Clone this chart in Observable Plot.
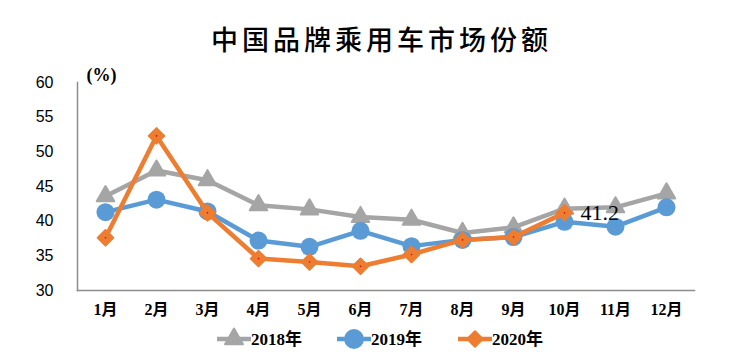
<!DOCTYPE html>
<html><head><meta charset="utf-8">
<script src="https://cdn.jsdelivr.net/npm/d3@7"></script>
<script src="https://cdn.jsdelivr.net/npm/@observablehq/plot@0.6"></script>
<style>
body{margin:0;background:#fff;width:739px;height:357px;overflow:hidden;}
#title{height:60px;line-height:78px;text-align:center;padding-left:24px;font-family:"Noto Sans CJK SC",sans-serif;font-weight:500;font-size:27px;letter-spacing:4px;color:#000;box-sizing:border-box;}
#chart{height:265px;}
#legend{height:32px;}
</style></head><body>
<div id="title">中国品牌乘用车市场份额</div>
<div id="chart"></div>
<div id="legend"></div>
<script>
const months = ["1月","2月","3月","4月","5月","6月","7月","8月","9月","10月","11月","12月"];
const s2018 = [43.6, 47.3, 45.9, 42.3, 41.7, 40.6, 40.2, 38.3, 39.1, 41.8, 42.0, 44.0];
const s2019 = [41.3, 43.1, 41.4, 37.2, 36.3, 38.6, 36.4, 37.3, 37.7, 39.9, 39.2, 42.0];
const s2020 = [37.6, 52.3, 41.2, 34.6, 34.1, 33.5, 35.2, 37.3, 37.7, 41.2];
const yTicks = [30, 35, 40, 45, 50, 55, 60];
const seriesNames = ["2018年", "2019年", "2020年"];
const colors = ["#A5A5A5", "#5B9BD5", "#ED7D31"];

const toRows = (vals) => vals.map((v, i) => ({month: months[i], value: v}));
const d18 = toRows(s2018), d19 = toRows(s2019), d20 = toRows(s2020);
const lastPoint = [d20[d20.length - 1]];

const serif = "'Liberation Serif','Noto Sans CJK SC',serif";
const sans = "'Liberation Sans',Arial,sans-serif";

const chart = Plot.plot({
  width: 739,
  height: 265,
  marginTop: 22,
  marginBottom: 35,
  marginLeft: 77,
  marginRight: 45,
  style: {fontFamily: serif, fontSize: "15px", color: "#000", background: "#fff", overflow: "visible"},
  x: {type: "point", domain: months, padding: 0.5},
  y: {domain: [30, 60]},
  marks: [
    Plot.frame({anchor: "left", stroke: "#8c8c8c", strokeWidth: 1.5}),
    Plot.frame({anchor: "bottom", stroke: "#8c8c8c", strokeWidth: 1.5}),
    Plot.axisY({ticks: yTicks, tickSize: 0, tickPadding: 24, label: null, fontSize: 16, fontFamily: sans}),
    Plot.axisX({tickSize: 0, tickPadding: 13, label: null, fontSize: 16, fontWeight: "bold"}),
    Plot.text(["(%)"], {frameAnchor: "top-left", dx: 9, dy: -14, fontWeight: "bold", fontSize: 18}),
    Plot.line(d18, {x: "month", y: "value", stroke: colors[0], strokeWidth: 4.5}),
    Plot.dot(d18, {x: "month", y: "value", symbol: "triangle", r: 6.5, fill: colors[0], stroke: colors[0], strokeWidth: 2, strokeLinejoin: "round"}),
    Plot.line(d19, {x: "month", y: "value", stroke: colors[1], strokeWidth: 4.5}),
    Plot.dot(d19, {x: "month", y: "value", symbol: "circle", r: 9, fill: colors[1], stroke: "none"}),
    Plot.line(d20, {x: "month", y: "value", stroke: colors[2], strokeWidth: 4.5}),
    Plot.dot(d20, {x: "month", y: "value", symbol: "diamond2", r: 7, fill: colors[2], stroke: colors[2], strokeWidth: 2, strokeLinejoin: "round"}),
    Plot.dot(d20, {x: "month", y: "value", r: 0.8, fill: "#e00000"}),
    Plot.text(lastPoint, {x: "month", y: "value", text: d => d.value.toFixed(1), textAnchor: "start", dx: 16, fontSize: 22, fill: "#000"})
  ]
});
document.getElementById("chart").appendChild(chart);

// legend
const lg = d3.select("#legend").append("svg").attr("width", 739).attr("height", 32)
  .style("font-family", serif);
const items = [
  {x: 217, sym: d3.symbolTriangle, size: 140},
  {x: 337, sym: d3.symbolCircle, size: 250},
  {x: 458, sym: d3.symbolDiamond2, size: 150}
];
items.forEach((it, i) => {
  const g = lg.append("g").attr("transform", `translate(${it.x},14)`);
  g.append("line").attr("x1", 0).attr("x2", 34).attr("stroke", colors[i]).attr("stroke-width", 4.5);
  g.append("path").attr("transform", "translate(17,0)").attr("d", d3.symbol(it.sym, it.size)())
    .attr("fill", colors[i]).attr("stroke", colors[i]).attr("stroke-width", 2).attr("stroke-linejoin", "round");
  g.append("text").attr("x", 34).attr("y", 0).attr("dy", "0.35em").attr("font-size", 17).attr("font-weight", "bold")
    .text(seriesNames[i]);
});
</script>
</body></html>
